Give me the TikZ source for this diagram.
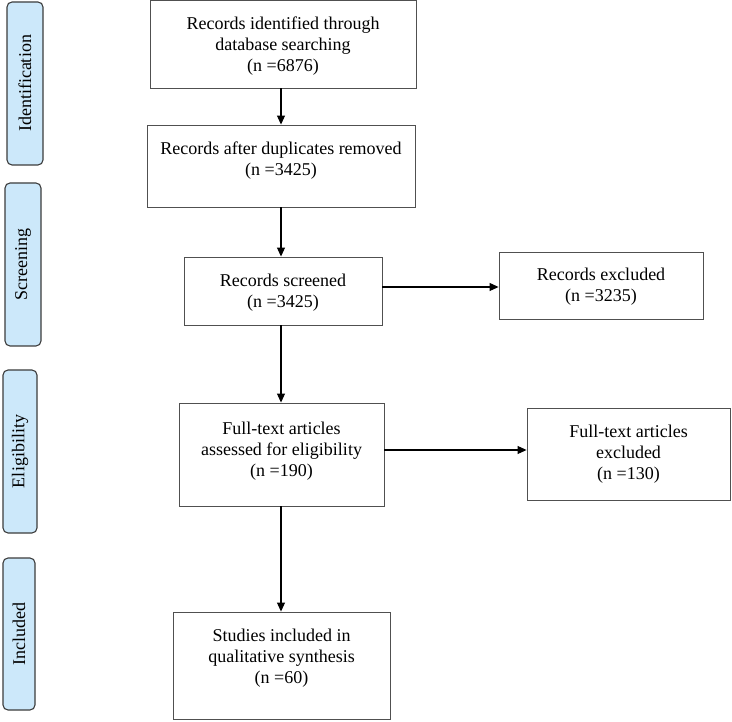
\documentclass[tikz,border=0pt]{standalone}
\usepackage{fontspec}
\setmainfont{Liberation Serif}
\usetikzlibrary{arrows.meta}
\definecolor{phasefill}{HTML}{CCE8FA}
\definecolor{phaseline}{HTML}{3C3C3C}
\definecolor{boxline}{HTML}{505050}
\newcommand{\bxt}[2]{\raisebox{#1}[0pt][0pt]{\begin{tabular}{@{}c@{}}#2\end{tabular}}}
\tikzset{
  flowbox/.style={draw=boxline, line width=0.9pt, fill=white, inner sep=0pt,
    font=\fontsize{18pt}{21pt}\selectfont},
  phasebox/.style={draw=phaseline, fill=phasefill, rounded corners=5pt, line width=1.1pt,
    rotate=90, inner sep=0pt, font=\fontsize{18pt}{21pt}\selectfont},
  arr/.style={-{Triangle[length=9pt,width=8pt]}, line width=1.1pt, black}
}
\begin{document}
\begin{tikzpicture}[x=1pt,y=-1pt]
\useasboundingbox (0,0) rectangle (732,722);
% phase labels
\node[phasebox, minimum width=163pt, minimum height=36pt] (p1) at (25,83.5) {Identification};
\node[phasebox, minimum width=163pt, minimum height=36pt] (p2) at (23,264.5) {Screening};
\node[phasebox, minimum width=163pt, minimum height=34pt] (p3) at (20,451.5) {Eligibility};
\node[phasebox, minimum width=152pt, minimum height=32pt] (p4) at (19,634) {Included};
% flow boxes
\node[flowbox, minimum width=266pt, minimum height=87.4pt] (b1) at (283,44.3)
  {\bxt{-6pt}{Records identified through\\database searching\\(n =6876)}};
\node[flowbox, minimum width=268pt, minimum height=82pt] (b2) at (281,166)
  {\bxt{1pt}{Records after duplicates removed\\(n =3425)}};
\node[flowbox, minimum width=198pt, minimum height=68pt] (b3) at (283,291)
  {\bxt{-6pt}{Records screened\\(n =3425)}};
\node[flowbox, minimum width=204pt, minimum height=67pt] (e1) at (601,285.5)
  {\bxt{-6pt}{Records excluded\\(n =3235)}};
\node[flowbox, minimum width=205pt, minimum height=103pt] (b4) at (281.5,454.5)
  {\bxt{-1pt}{Full-text articles\\assessed for eligibility\\(n =190)}};
\node[flowbox, minimum width=203pt, minimum height=92pt] (e2) at (628.5,454)
  {\bxt{-5pt}{Full-text articles\\excluded\\(n =130)}};
\node[flowbox, minimum width=217pt, minimum height=107pt] (b5) at (281.5,665.5)
  {\bxt{2.5pt}{Studies included in\\qualitative synthesis\\(n =60)}};
% connectors
\coordinate (ax) at (281,0);
\coordinate (r1) at (0,287);
\coordinate (r2) at (0,450);
\draw[arr] (b1.south -| ax) -- (b2.north -| ax);
\draw[arr] (b2.south -| ax) -- (b3.north -| ax);
\draw[arr] (b3.south -| ax) -- (b4.north -| ax);
\draw[arr] (b4.south -| ax) -- (b5.north -| ax);
\draw[arr] (b3.east |- r1) -- (e1.west |- r1);
\draw[arr] (b4.east |- r2) -- (e2.west |- r2);
\end{tikzpicture}
\end{document}
